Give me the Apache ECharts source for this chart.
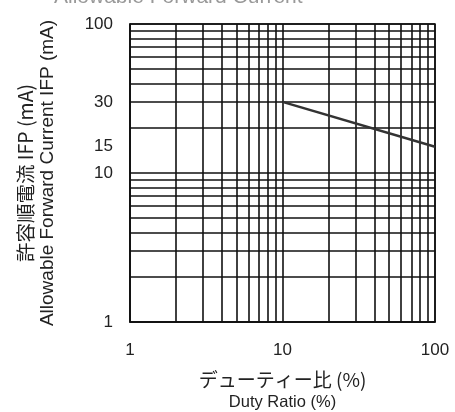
<!DOCTYPE html>
<html>
<head>
<meta charset="utf-8">
<script src="https://cdn.jsdelivr.net/npm/echarts@6/dist/echarts.min.js"></script>
<style>
html,body{margin:0;padding:0;background:#fff;}
#chart{width:455px;height:412px;}
</style>
</head>
<body>
<div id="chart"></div>
<script>
const dutyRatio = [10, 100];
const allowableCurrent = [30, 15];
const xGridValues = [1,2,3,4,5,6,7,8,9,10,20,30,40,50,60,70,80,90,100];
const yGridValues = [1,2,3,4,5,6,7,8,9,10,20,30,40,50,60,70,80,90,100];
const xTickLabels = [1, 10, 100];
const yTickLabels = [1, 10, 15, 30, 100];

const FONT = '"Liberation Sans", Arial, "Noto Sans CJK JP", sans-serif';
const JFONT = '"Noto Sans CJK JP", "Liberation Sans", sans-serif';
const chart = echarts.init(document.getElementById('chart'), null, {renderer: 'canvas'});
chart.setOption({
  animation: false,
  backgroundColor: '#fff',
  title: {
    text: 'Allowable Forward Current',
    left: 49, top: -18,
    textStyle: {fontFamily: FONT, fontSize: 21, fontWeight: 'normal', color: '#999'}
  },
  grid: {left: 130, right: 20, top: 24, bottom: 90, show: true, borderColor: '#111', borderWidth: 1.5,
         containLabel: false, outerBoundsMode: 'none'},
  xAxis: {
    type: 'log', logBase: 10, min: 1, max: 100,
    name: '{jp|デューティー比 (%)}\n{en|Duty Ratio (%)}',
    nameLocation: 'middle', nameGap: 47,
    nameTextStyle: {
      verticalAlign: 'top',
      rich: {
        jp: {fontFamily: JFONT, fontSize: 19, color: '#222', lineHeight: 22},
        en: {fontFamily: FONT, fontSize: 16.5, color: '#222', lineHeight: 23}
      }
    },
    axisLine: {show: true, lineStyle: {color: '#111', width: 1.5}},
    axisTick: {show: false, customValues: xGridValues},
    axisLabel: {customValues: xTickLabels, margin: 20, fontFamily: FONT, fontSize: 17, color: '#222'},
    splitLine: {show: true, lineStyle: {color: '#111', width: 1.6}},
    minorSplitLine: {show: false}
  },
  yAxis: {
    type: 'log', logBase: 10, min: 1, max: 100,
    name: '{jp|許容順電流 IFP (mA)}\n{en|Allowable Forward Current IFP (mA)}',
    nameLocation: 'middle', nameGap: 72,
    nameTextStyle: {
      rich: {
        jp: {fontFamily: JFONT, fontSize: 19.5, color: '#222', lineHeight: 22},
        en: {fontFamily: FONT, fontSize: 19, color: '#222', lineHeight: 21}
      }
    },
    axisLine: {show: true, lineStyle: {color: '#111', width: 1.5}},
    axisTick: {show: false, customValues: yGridValues},
    axisLabel: {customValues: yTickLabels, margin: 17, fontFamily: FONT, fontSize: 17, color: '#222'},
    splitLine: {show: true, lineStyle: {color: '#111', width: 1.6}},
    minorSplitLine: {show: false}
  },
  series: [{
    type: 'line',
    data: dutyRatio.map((d, i) => [d, allowableCurrent[i]]),
    showSymbol: false,
    lineStyle: {color: '#333', width: 2.5},
    z: 5
  }]
});
</script>
</body>
</html>
